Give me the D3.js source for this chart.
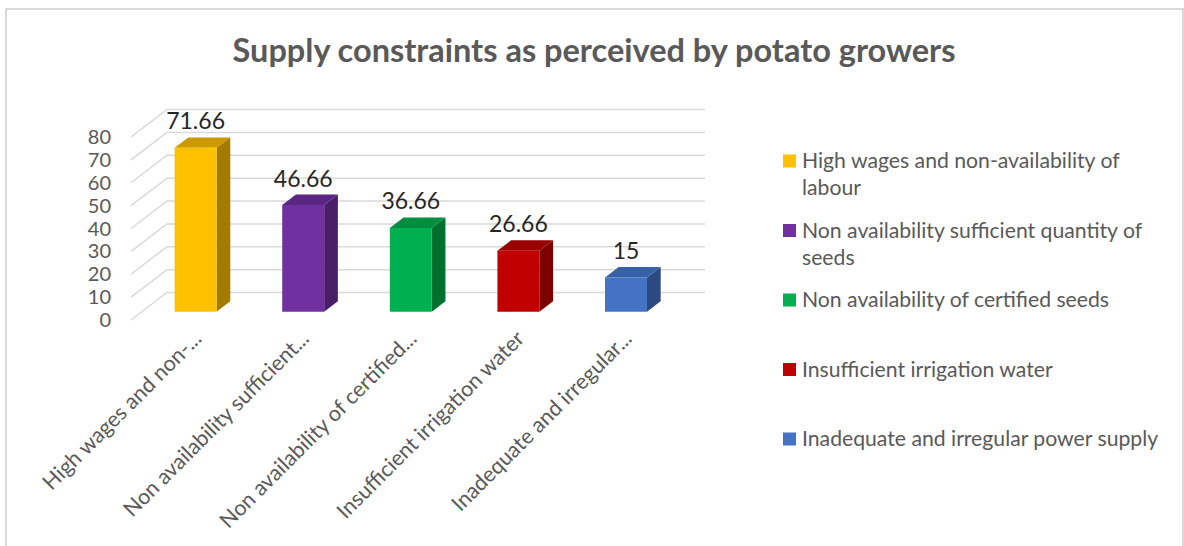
<!DOCTYPE html>
<html>
<head>
<meta charset="utf-8">
<script src="https://cdn.jsdelivr.net/npm/d3@7/dist/d3.min.js"></script>
<style>
  html, body { margin: 0; padding: 0; background: #ffffff; }
  svg { display: block; font-family: Lato, "Open Sans", sans-serif; }
</style>
</head>
<body>
<svg id="chart" width="1184" height="546"></svg>
<script>
// Constraint categories (legend names) and the shortened axis labels
const categories = [
  "High wages and non-availability of labour",
  "Non availability sufficient quantity of seeds",
  "Non availability of certified seeds",
  "Insufficient irrigation water",
  "Inadequate and irregular power supply"
];
const tickLabels = [
  "High wages and non-...",
  "Non availability sufficient...",
  "Non availability of certified...",
  "Insufficient irrigation water",
  "Inadequate and irregular..."
];
const values = [71.66, 46.66, 36.66, 26.66, 15];
const valueLabels = ["71.66", "46.66", "36.66", "26.66", "15"];
const yTicks = [0, 10, 20, 30, 40, 50, 60, 70, 80];

// Face colours for each column: front, side, top
const frontColors = ["#FFC000", "#7030A0", "#00B050", "#C00000", "#4472C4"];
const sideColors  = ["#A37B00", "#481E68", "#00702F", "#7C0000", "#2C4A80"];
const topColors   = ["#CC9A00", "#5A2683", "#008D40", "#9A0000", "#3660A8"];

const svg = d3.select("#chart");

// Outer chart border
svg.append("rect")
  .attr("x", 6).attr("y", 9)
  .attr("width", 1177).attr("height", 600)
  .attr("fill", "#ffffff")
  .attr("stroke", "#d9d9d9").attr("stroke-width", 2);

// Title
svg.append("text")
  .attr("x", 594).attr("y", 62)
  .attr("text-anchor", "middle")
  .attr("font-size", 32.5).attr("font-weight", 700)
  .attr("fill", "#595959")
  .text("Supply constraints as perceived by potato growers");

// Oblique projection: front plane plus a depth vector toward the back wall
const depth = { dx: 36, dy: -27.5 };
const proj = (px, py, d) => [px + depth.dx * d, py + depth.dy * d];

const x = d3.scaleBand()
  .domain(categories)
  .range([131, 669])
  .paddingInner(0.61)
  .paddingOuter(0.305);

const y = d3.scaleLinear().domain([0, 80]).range([320, 137]);

const x0 = x.range()[0], x1 = x.range()[1];

// Gridlines: diagonal on the side wall, then across the back wall
const grid = svg.append("g").attr("fill", "none")
  .attr("stroke", "#d9d9d9").attr("stroke-width", 1.5);
yTicks.forEach(t => {
  const a = proj(x0, y(t), 0), b = proj(x0, y(t), 1), c = proj(x1, y(t), 1);
  grid.append("path").attr("d", d3.line()([a, b, c]));
});

// Value axis labels
svg.append("g")
  .selectAll("text")
  .data(yTicks)
  .join("text")
  .attr("x", 111)
  .attr("y", d => y(d))
  .attr("dy", "0.35em")
  .attr("text-anchor", "end")
  .attr("font-size", 20)
  .attr("fill", "#595959")
  .text(d => d);

// 3D columns
const d0 = 0.3, d1 = 0.68;
const bars = svg.append("g");
categories.forEach((c, i) => {
  const xl = x(c), xr = x(c) + x.bandwidth();
  const yb = y(0), yt = y(values[i]);
  const g = bars.append("g");
  const fbl = proj(xl, yb, d0), fbr = proj(xr, yb, d0);
  const ftl = proj(xl, yt, d0), ftr = proj(xr, yt, d0);
  const btl = proj(xl, yt, d1), btr = proj(xr, yt, d1), bbr = proj(xr, yb, d1);
  // side face
  g.append("path").attr("d", d3.line()([fbr, ftr, btr, bbr]) + "Z")
    .attr("fill", sideColors[i]);
  // top face
  g.append("path").attr("d", d3.line()([ftl, ftr, btr, btl]) + "Z")
    .attr("fill", topColors[i]);
  // front face
  g.append("path").attr("d", d3.line()([fbl, fbr, ftr, ftl]) + "Z")
    .attr("fill", frontColors[i]);
  // value label above the column
  svg.append("text")
    .attr("x", (fbl[0] + fbr[0]) / 2)
    .attr("y", btl[1] - 8)
    .attr("text-anchor", "middle")
    .attr("font-size", 23)
    .attr("fill", "#262626")
    .text(valueLabels[i]);
});

// Category labels, rotated
svg.append("g")
  .selectAll("text")
  .data(categories)
  .join("text")
  .attr("transform", (c) => `translate(${x(c) + x.bandwidth() / 2 + 18},340) rotate(-45)`)
  .attr("text-anchor", "end")
  .attr("font-size", 21.5)
  .attr("fill", "#595959")
  .text((c, i) => tickLabels[i]);

// Legend
const legend = svg.append("g");
const legendX = 783, legendY0 = 161, legendStep = 69.5, wrapWidth = 365;
categories.forEach((c, i) => {
  const cy = legendY0 + i * legendStep;
  legend.append("rect")
    .attr("x", legendX).attr("y", cy - 6.5)
    .attr("width", 13).attr("height", 13)
    .attr("fill", frontColors[i]);
  const t = legend.append("text")
    .attr("x", legendX + 19).attr("y", cy + 7)
    .attr("font-size", 21.2)
    .attr("fill", "#595959");
  // word wrap to the legend width
  const words = c.split(" ");
  let line = [];
  let tspan = t.append("tspan").attr("x", legendX + 19).attr("dy", 0);
  words.forEach(w => {
    line.push(w);
    tspan.text(line.join(" "));
    if (tspan.node().getComputedTextLength() > wrapWidth && line.length > 1) {
      line.pop();
      tspan.text(line.join(" "));
      line = [w];
      tspan = t.append("tspan").attr("x", legendX + 19).attr("dy", 27).text(w);
    }
  });
});
</script>
</body>
</html>
